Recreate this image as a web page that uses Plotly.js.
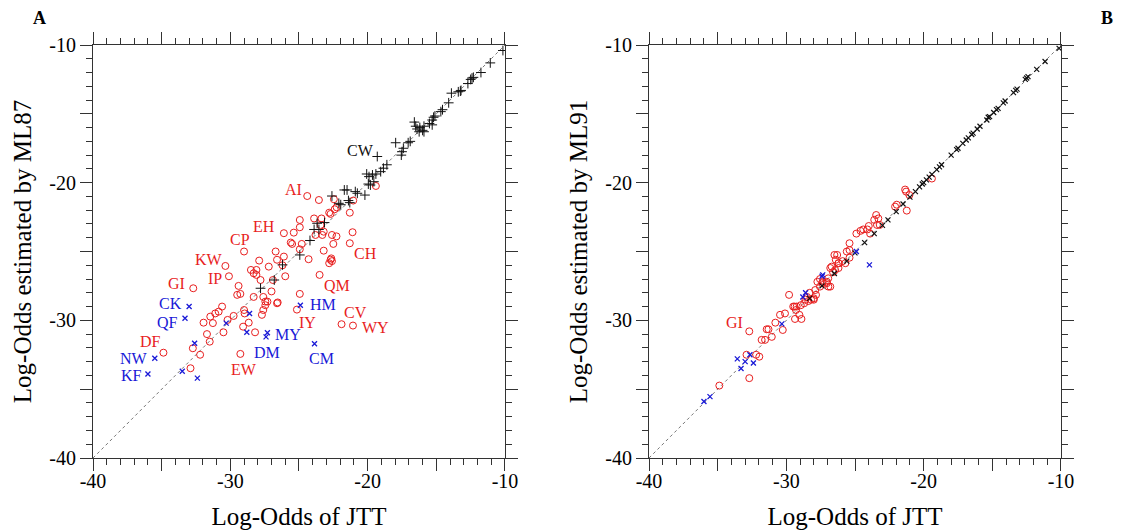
<!DOCTYPE html>
<html>
<head>
<meta charset="utf-8">
<script src="https://cdn.plot.ly/plotly-3.0.1.min.js"></script>
<style>html,body{margin:0;padding:0;background:#fff;}#chart{width:1133px;height:530px;}</style>
</head>
<body>
<div id="chart"></div>
<script>
// ---------- Panel A (JTT vs ML87) ----------
const aBlackX = [-10.15,-11.07,-11.75,-12.3,-12.4,-12.5,-12.7,-13.2,-13.25,-13.4,-13.9,-14.1,-14.55,-14.67,-15.1,-15.2,-15.3,-15.5,-15.3,-16.6,-16.5,-16.2,-16.0,-15.9,-15.9,-16.25,-16.4,-17.96,-16.9,-17.05,-17.4,-17.5,-17.55,-19.3,-18.6,-18.85,-19.05,-20.07,-19.9,-19.65,-19.4,-19.95,-19.8,-19.55,-20.2,-21.7,-21.5,-20.9,-20.75,-21.4,-21.3,-22.1,-21.96,-22.6,-23.68,-23.14,-23.55,-23.9,-24.2,-24.94,-26.2,-26.8,-27.8];
const aBlackY = [-10.4,-11.3,-12.0,-12.35,-12.4,-12.5,-12.8,-13.3,-13.35,-13.4,-13.5,-14.2,-14.7,-14.84,-15.16,-15.25,-15.45,-15.7,-15.8,-15.6,-15.9,-16.0,-16.2,-16.3,-15.9,-16.3,-16.1,-17.1,-17.0,-17.1,-17.5,-17.75,-18.0,-18.1,-18.7,-18.95,-19.2,-19.37,-19.56,-19.44,-19.37,-20.1,-20.17,-19.93,-20.9,-20.53,-20.53,-20.65,-20.77,-21.3,-21.45,-21.5,-21.6,-20.97,-22.95,-22.9,-23.4,-23.4,-24.2,-25.25,-25.97,-27.07,-27.67];

const aRedX = [-24.4,-23.55,-22.46,-21.05,-19.4,-22.8,-22.7,-22.4,-22.26,-21.3,-24.94,-24.94,-25.38,-26.1,-25.6,-25.5,-24.94,-24.8,-24.3,-26.7,-26.6,-26.1,-27.9,-27.2,-26.2,-26.9,-26.0,-28.5,-28.1,-28.3,-28.1,-27.8,-29.0,-30.36,-30.1,-32.7,-29.4,-29.5,-29.27,-28.3,-27.0,-27.6,-27.45,-26.55,-24.94,-25.15,-23.9,-23.36,-23.43,-23.8,-23.3,-23.2,-22.6,-22.27,-22.5,-23.2,-21.1,-21.3,-22.7,-22.6,-22.8,-22.65,-23.5,-30.6,-30.85,-31.1,-31.46,-31.95,-31.27,-29.76,-30.2,-30.5,-29.0,-28.96,-28.66,-29.07,-28.2,-31.7,-31.5,-32.73,-32.2,-32.9,-34.87,-29.27,-27.7,-27.6,-27.45,-27.3,-26.6,-21.9,-21.07];
const aRedY = [-20.97,-21.26,-21.2,-21.3,-20.24,-22.18,-22.27,-21.93,-21.79,-22.18,-22.71,-23.24,-23.63,-23.67,-24.35,-24.45,-24.84,-24.45,-25.56,-25.0,-25.6,-25.37,-25.66,-26.1,-26.0,-27.07,-26.8,-26.34,-26.34,-26.58,-26.7,-27.07,-25.0,-26.05,-26.8,-27.67,-27.5,-28.15,-28.08,-28.3,-27.9,-28.3,-28.64,-28.7,-28.08,-29.22,-22.6,-22.6,-23.07,-23.8,-23.8,-23.56,-23.8,-23.9,-24.45,-24.94,-23.6,-24.4,-25.6,-25.7,-25.85,-25.5,-26.7,-29.0,-29.37,-29.5,-29.73,-30.17,-30.2,-29.68,-29.97,-30.87,-29.25,-29.5,-30.17,-30.46,-30.87,-31.0,-31.55,-32.03,-32.5,-33.48,-32.35,-32.44,-29.6,-29.25,-28.9,-28.64,-28.76,-30.28,-30.38];

const aBlueX = [-33.0,-33.3,-35.5,-36.0,-32.6,-33.5,-32.4,-30.3,-28.6,-28.8,-27.3,-27.4,-24.9,-23.87];
const aBlueY = [-29.0,-29.85,-32.75,-33.9,-31.66,-33.7,-34.2,-30.2,-29.5,-30.87,-30.9,-31.2,-28.9,-31.7];

const aBlackLabels = ["CW"];
const aBlackLabelX = [-20.5];
const aBlackLabelY = [-17.63];
const aRedLabels = ["AI","EH","CP","KW","IP","GI","DF","EW","IY","CV","WY","QM","CH"];
const aRedLabelX = [-25.38,-27.52,-29.27,-31.53,-31.15,-33.94,-35.8,-29.0,-24.38,-20.9,-19.42,-22.2,-20.17];
const aRedLabelY = [-20.53,-23.2,-24.16,-25.6,-26.94,-27.35,-31.55,-33.55,-30.17,-29.4,-30.5,-27.48,-25.18];
const aBlueLabels = ["CK","QF","NW","KF","DM","MY","HM","CM"];
const aBlueLabelX = [-34.38,-34.6,-37.03,-37.18,-27.35,-25.8,-23.24,-23.36];
const aBlueLabelY = [-28.78,-30.15,-32.78,-34.04,-32.3,-31.04,-28.88,-32.78];

// ---------- Panel B (JTT vs ML91) ----------
const bBlackX = [-10.14,-11.16,-11.77,-12.4,-12.5,-12.6,-13.2,-13.3,-13.46,-14.07,-14.2,-14.58,-14.7,-14.9,-15.2,-15.3,-15.4,-15.9,-16.1,-16.4,-16.5,-16.75,-16.9,-17.15,-17.5,-17.6,-18.0,-18.7,-18.85,-19.05,-19.4,-19.6,-19.8,-20.0,-20.1,-20.3,-20.6,-21.0,-21.5,-22.0,-22.6,-23.0,-23.6,-24.3,-25.0,-25.6,-26.5,-27.4,-28.3];
const bBlackY = [-10.24,-11.2,-11.77,-12.3,-12.4,-12.5,-13.2,-13.3,-13.46,-14.07,-14.2,-14.6,-14.7,-14.9,-15.2,-15.25,-15.45,-15.9,-16.1,-16.4,-16.5,-16.75,-16.9,-17.15,-17.5,-17.6,-18.0,-18.7,-18.85,-19.05,-19.4,-19.6,-19.8,-20.0,-20.1,-20.3,-20.65,-21.05,-21.55,-22.1,-22.7,-23.1,-23.7,-24.35,-25.1,-25.7,-26.6,-27.5,-28.4];

const bRedX = [-19.4,-21.35,-21.28,-21.04,-21.23,-21.96,-22.08,-23.46,-23.3,-23.2,-23.4,-23.6,-24.0,-24.1,-23.9,-24.4,-24.6,-24.9,-25.4,-25.6,-25.4,-25.4,-25.7,-26.5,-26.4,-26.2,-25.9,-26.2,-26.7,-26.6,-26.95,-27.05,-26.8,-27.35,-27.55,-27.9,-28.0,-28.3,-28.4,-28.6,-28.95,-29.4,-29.8,-32.7,-34.88,-32.7,-32.9,-32.2,-31.97,-31.8,-31.55,-31.43,-31.3,-31.06,-30.8,-30.46,-30.1,-30.26,-29.5,-29.25,-29.3,-29.05,-28.9,-29.37,-28.7,-28.5,-28.2,-28.0,-27.84,-27.74,-27.55,-27.4,-27.05,-26.94,-26.8,-26.45,-26.2,-26.3];
const bRedY = [-19.7,-20.5,-20.65,-20.9,-22.03,-21.6,-21.74,-22.35,-22.6,-23.07,-23.07,-22.7,-23.15,-23.4,-23.7,-23.4,-23.5,-23.7,-24.4,-25.0,-25.45,-24.9,-25.85,-25.25,-25.6,-25.85,-25.7,-26.2,-26.1,-26.5,-26.95,-27.3,-27.55,-27.2,-27.55,-27.8,-28.4,-28.0,-28.6,-28.5,-28.9,-29.0,-28.15,-30.8,-34.74,-34.2,-32.5,-32.5,-32.64,-31.42,-31.42,-30.65,-30.65,-31.2,-30.17,-29.6,-29.5,-30.7,-29.0,-29.0,-29.25,-29.6,-29.9,-29.9,-28.76,-28.3,-28.5,-28.5,-28.15,-27.2,-27.0,-27.3,-27.2,-27.55,-26.2,-26.35,-25.85,-25.25];

const bBlueX = [-36.0,-35.56,-33.57,-33.3,-33.0,-32.65,-32.4,-30.33,-28.8,-28.6,-27.35,-27.4,-24.9,-23.95];
const bBlueY = [-35.9,-35.54,-32.8,-33.5,-33.0,-32.5,-33.1,-30.26,-28.3,-28.0,-26.7,-26.8,-25.0,-25.97];

const bRedLabels = ["GI"];
const bRedLabelX = [-33.79];
const bRedLabelY = [-30.14];

const diagX = [-40, -10];
const diagY = [-40, -10];

const tickVals = [-40,-35,-30,-25,-20,-15,-10];
const tickText = ["-40","","-30","","-20","","-10"];
const panelLetters = ["A","B"];
const xTitle = "Log-Odds of JTT";
const yTitleA = "Log-Odds estimated by ML87";
const yTitleB = "Log-Odds estimated by ML91";

// ---------- styles ----------
const RED = "rgb(232,30,30)";
const BLUE = "rgb(25,25,215)";
const BLACK = "#111";
const FONT = "Liberation Serif, Times New Roman, serif";

function diag(xa, ya) {
  return {x: diagX, y: diagY, xaxis: xa, yaxis: ya, mode: "lines",
          line: {color: "#777", width: 1, dash: "dot"}, hoverinfo: "skip", showlegend: false};
}
function pts(x, y, xa, ya, symbol, color, size, lw) {
  return {x: x, y: y, xaxis: xa, yaxis: ya, mode: "markers", showlegend: false,
          marker: {symbol: symbol, size: size, color: color, line: {color: color, width: lw}}};
}

const data = [
  diag("x", "y"),
  pts(aRedX, aRedY, "x", "y", "circle-open", RED, 7, 1),
  pts(aBlueX, aBlueY, "x", "y", "x-thin", BLUE, 5, 1.3),
  pts(aBlackX, aBlackY, "x", "y", "cross-thin", BLACK, 7, 1),
  diag("x2", "y2"),
  pts(bRedX, bRedY, "x2", "y2", "circle-open", RED, 7, 1),
  pts(bBlackX, bBlackY, "x2", "y2", "x-thin", BLACK, 5, 1.2),
  pts(bBlueX, bBlueY, "x2", "y2", "x-thin", BLUE, 5, 1.3)
];

function axis(domain, anchor, title, isY) {
  const ax = {
    domain: domain, anchor: anchor, range: [-40, -10],
    tickmode: "array", tickvals: tickVals, ticktext: tickText,
    ticks: "outside", ticklen: 12, tickwidth: 1, tickcolor: "#333",
    minor: {tickmode: "linear", tick0: -40, dtick: 1, ticks: "outside", ticklen: 6, tickwidth: 1, tickcolor: "#333", showgrid: false},
    showline: true, linecolor: "#333", linewidth: 1, mirror: "allticks",
    showgrid: false, zeroline: false,
    tickfont: {family: FONT, size: 20, color: "#000"},
    title: {text: title, font: {family: FONT, size: 25, color: "#000"}, standoff: isY ? 10 : 16}
  };
  if (!isY) ax.ticklabelstandoff = -7;
  return ax;
}

const annotations = [];
function addLabels(texts, xs, ys, color, xr, yr) {
  for (let i = 0; i < texts.length; i++) {
    annotations.push({text: texts[i], x: xs[i], y: ys[i], xref: xr, yref: yr, showarrow: false,
      xanchor: "center", yanchor: "middle", borderpad: 0,
      font: {family: FONT, size: 16, color: color}});
  }
}
addLabels(aBlackLabels, aBlackLabelX, aBlackLabelY, BLACK, "x", "y");
addLabels(aRedLabels, aRedLabelX, aRedLabelY, RED, "x", "y");
addLabels(aBlueLabels, aBlueLabelX, aBlueLabelY, BLUE, "x", "y");
addLabels(bRedLabels, bRedLabelX, bRedLabelY, RED, "x2", "y2");
annotations.push({text: "<b>" + panelLetters[0] + "</b>", xref: "paper", yref: "paper", x: -0.0548, y: 1.065,
  xanchor: "center", yanchor: "middle", showarrow: false, font: {family: FONT, size: 18, color: "#000"}});
annotations.push({text: "<b>" + panelLetters[1] + "</b>", xref: "paper", yref: "paper", x: 1.0475, y: 1.065,
  xanchor: "center", yanchor: "middle", showarrow: false, font: {family: FONT, size: 18, color: "#000"}});

const layout = {
  width: 1133, height: 530,
  margin: {l: 93, r: 72, t: 45, b: 72, pad: 0},
  paper_bgcolor: "#fff", plot_bgcolor: "#fff",
  showlegend: false,
  xaxis: axis([0, 0.4256], "y", xTitle, false),
  yaxis: axis([0, 1], "x", yTitleA, true),
  xaxis2: axis([0.5744, 1], "y2", xTitle, false),
  yaxis2: axis([0, 1], "x2", yTitleB, true),
  annotations: annotations
};

Plotly.newPlot("chart", data, layout, {displayModeBar: false, staticPlot: true});
</script>
</body>
</html>
